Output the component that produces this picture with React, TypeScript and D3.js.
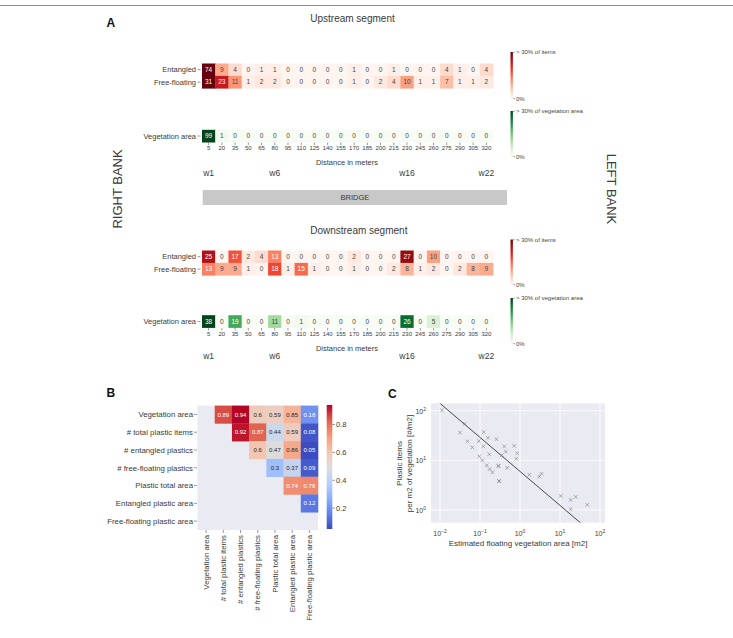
import React from 'react';
import * as d3 from 'd3';

// ---------- Panel A data ----------
const distances = [5, 20, 35, 50, 65, 80, 95, 110, 125, 140, 155, 170, 185, 200, 215, 230, 245, 260, 275, 290, 305, 320];
const upEntangled = [74, 9, 4, 0, 1, 1, 0, 0, 0, 0, 0, 1, 0, 0, 1, 0, 0, 0, 4, 1, 0, 4];
const upFreeFloating = [31, 23, 11, 1, 2, 2, 0, 0, 0, 0, 0, 1, 0, 2, 4, 10, 1, 1, 7, 1, 1, 2];
const upVegetation = [99, 1, 0, 0, 0, 0, 0, 0, 0, 0, 0, 0, 0, 0, 0, 0, 0, 0, 0, 0, 0, 0];
const downEntangled = [25, 0, 17, 2, 4, 13, 0, 0, 0, 0, 0, 2, 0, 0, 0, 27, 0, 10, 0, 0, 0, 0];
const downFreeFloating = [13, 9, 9, 1, 0, 18, 1, 15, 1, 0, 0, 1, 0, 0, 2, 8, 1, 2, 0, 2, 8, 9];
const downVegetation = [38, 0, 19, 0, 0, 11, 0, 1, 0, 0, 0, 0, 0, 0, 0, 26, 0, 5, 0, 0, 0, 0];
const waypointLabels = ['w1', 'w6', 'w16', 'w22'];
const waypointDistances = [5, 80, 230, 320];
const colorMaxPercent = 30;

// ---------- Panel B data ----------
const corrLabels = [
  'Vegetation area',
  '# total plastic items',
  '# entangled plastics',
  '# free-floating plastics',
  'Plastic total area',
  'Entangled plastic area',
  'Free-floating plastic area',
];
const corrAnnot: (number | null)[][] = [
  [null, 0.89, 0.94, 0.6, 0.59, 0.85, 0.18],
  [null, null, 0.92, 0.87, 0.44, 0.59, 0.08],
  [null, null, null, 0.6, 0.47, 0.86, 0.05],
  [null, null, null, null, 0.3, 0.37, 0.09],
  [null, null, null, null, null, 0.74, 0.76],
  [null, null, null, null, null, null, 0.12],
  [null, null, null, null, null, null, null],
];
// colour intensity (colour-bar units)
const corrColor: (number | null)[][] = [
  [null, 0.85, 0.94, 0.58, 0.56, 0.65, 0.2],
  [null, null, 0.92, 0.82, 0.44, 0.57, 0.07],
  [null, null, null, 0.6, 0.5, 0.68, 0.05],
  [null, null, null, null, 0.32, 0.42, 0.08],
  [null, null, null, null, null, 0.74, 0.75],
  [null, null, null, null, null, null, 0.14],
  [null, null, null, null, null, null, null],
];
const corrMin = 0.05;
const corrMax = 0.94;
const corrTicks = [0.2, 0.4, 0.6, 0.8];

// ---------- Panel C data ----------
const vegArea = [0.0112, 0.0414, 0.0316, 0.0487, 0.0644, 0.0933, 0.124, 0.158, 0.121, 0.257, 0.171, 0.096, 0.114, 0.147, 0.174, 0.205, 0.287, 0.292, 0.299, 0.302, 0.403, 0.442, 0.349, 0.481, 0.716, 0.856, 0.808, 1.71, 3.04, 3.45, 10.4, 18.5, 24.7, 18.5, 48.1];
const plasticDensity = [102, 54.5, 36.4, 24.2, 18.2, 24.5, 37.2, 28.5, 19.2, 26.7, 13.3, 12.1, 10.0, 7.96, 6.65, 5.77, 7.78, 7.7, 3.85, 3.8, 19.1, 15.0, 12.7, 7.1, 19.6, 13.9, 10.8, 5.15, 4.7, 5.37, 1.92, 1.6, 1.84, 1.04, 1.27];
const fitCoef = 6.0;
const fitExponent = -0.685;
const xDecades = [-2, -1, 0, 1, 2];
const yDecades = [0, 1, 2];

const FONT = '"Liberation Sans", Arial, Helvetica, sans-serif';
const TXT = '#3a3a3a';

const coolwarm = d3.piecewise(d3.interpolateRgb, [
  '#3b4cc0', '#6282ea', '#8db0fe', '#b8d0f9', '#dddddd', '#f5c4ad', '#f49a7b', '#de604d', '#b40426',
]);

function relLum(c: string) {
  const r = d3.rgb(c);
  const f = (v: number) => {
    const s = v / 255;
    return s <= 0.03928 ? s / 12.92 : Math.pow((s + 0.055) / 1.055, 2.4);
  };
  return 0.2126 * f(r.r) + 0.7152 * f(r.g) + 0.0722 * f(r.b);
}

export default function App() {
  // ----- Panel A -----
  const xA = d3.scaleBand<number>().domain(distances).range([202, 493]);
  const bw = xA.bandwidth();
  const rowH = 12.4;
  const reds = (v: number) => d3.interpolateReds(Math.min(v / colorMaxPercent, 1));
  const greens = (v: number) => d3.interpolateGreens(Math.min(v / colorMaxPercent, 1));

  const cellRow = (key: string, label: string, values: number[], top: number, color: (v: number) => string) => (
    <g key={key}>
      {values.map((v, i) => {
        const t = Math.min(v / colorMaxPercent, 1);
        const x = xA(distances[i]) as number;
        return (
          <g key={i}>
            <rect x={x} y={top} width={bw + 0.4} height={rowH + 0.3} fill={color(v)} />
            <text x={x + bw / 2} y={top + rowH / 2 + 2.3} textAnchor="middle" fontSize={6.5} fill={t >= 0.4 ? '#fff' : '#444'}>
              {v}
            </text>
          </g>
        );
      })}
      <line x1={197.5} x2={200.5} y1={top + rowH / 2} y2={top + rowH / 2} stroke="#555" strokeWidth={0.6} />
      <text x={196} y={top + rowH / 2 + 2.6} textAnchor="end" fontSize={7.5} fill={TXT}>
        {label}
      </text>
    </g>
  );

  const distAxis = (key: string, top: number, labelY: number, titleY: number, wY: number) => (
    <g key={key}>
      {distances.map((d) => {
        const cx = (xA(d) as number) + bw / 2;
        return (
          <g key={d}>
            <line x1={cx} x2={cx} y1={top} y2={top + 2.5} stroke="#555" strokeWidth={0.6} />
            <text x={cx} y={labelY} textAnchor="middle" fontSize={6} fill={TXT}>
              {d}
            </text>
          </g>
        );
      })}
      <text x={347} y={titleY} textAnchor="middle" fontSize={7.5} fill={TXT}>
        Distance in meters
      </text>
      {waypointLabels.map((w, i) => (
        <text key={w} x={(xA(waypointDistances[i]) as number) + bw / 2} y={wY} textAnchor="middle" fontSize={8.5} fill={TXT}>
          {w}
        </text>
      ))}
    </g>
  );

  const colorbarA = (key: string, top: number, bottom: number, interp: (t: number) => string, label: string) => {
    const id = 'grad-' + key;
    const stops = d3.range(0, 1.0001, 0.1);
    return (
      <g key={key}>
        <defs>
          <linearGradient id={id} x1="0" y1="1" x2="0" y2="0">
            {stops.map((s) => (
              <stop key={s} offset={s} stopColor={interp(s)} />
            ))}
          </linearGradient>
        </defs>
        <rect x={510.5} y={top} width={2.4} height={bottom - top} fill={`url(#${id})`} />
        <line x1={512.9} x2={515} y1={top + 0.3} y2={top + 0.3} stroke="#555" strokeWidth={0.5} />
        <line x1={512.9} x2={515} y1={bottom - 0.3} y2={bottom - 0.3} stroke="#555" strokeWidth={0.5} />
        <text x={516} y={top + 2.2} fontSize={6} fill="#444">
          {label}
        </text>
        <text x={516} y={bottom + 2.2} fontSize={6} fill="#444">
          0%
        </text>
      </g>
    );
  };

  // ----- Panel B -----
  const xB = d3.scaleBand<number>().domain(d3.range(7)).range([197.5, 318]);
  const yB = d3.scaleBand<number>().domain(d3.range(7)).range([405.6, 530]);
  const cB = d3.scaleLinear().domain([corrMin, corrMax]).range([0, 1]).clamp(true);
  const cbY = d3.scaleLinear().domain([corrMin, corrMax]).range([529, 405]);

  // ----- Panel C -----
  const xC = d3.scaleLog().domain([Math.pow(10, -2.225), Math.pow(10, 2.125)]).range([431, 605]);
  const yC = d3.scaleLog().domain([Math.pow(10, -0.255), Math.pow(10, 2.15)]).range([522.7, 403.3]);
  const fitLine = d3
    .line<number>()
    .x((v) => xC(v))
    .y((v) => yC(fitCoef * Math.pow(v, fitExponent)));
  const fitXs = [0.0098, 60];

  return (
    <svg
      width={733}
      height={638}
      viewBox="0 0 733 638"
      style={{ position: 'absolute', left: 0, top: 0, background: '#fff' }}
      fontFamily={FONT}
    >
      <rect x={0} y={0} width={733} height={638} fill="#fff" />
      <line x1={0} x2={733} y1={5.5} y2={5.5} stroke="#8c8c8c" strokeWidth={1.2} />

      {/* Panel A */}
      <text x={106.5} y={26.5} fontSize={12} fontWeight="bold" fill="#111">A</text>
      <text x={352.5} y={22} textAnchor="middle" fontSize={10} fill={TXT}>Upstream segment</text>
      {cellRow('ue', 'Entangled', upEntangled, 63.5, reds)}
      {cellRow('uf', 'Free-floating', upFreeFloating, 75.9, reds)}
      {cellRow('uv', 'Vegetation area', upVegetation, 129.8, greens)}
      {distAxis('ua', 142.6, 150, 164.5, 176.3)}
      {colorbarA('ur', 52, 99, d3.interpolateReds, '> 30% of items')}
      {colorbarA('ug', 111, 157, d3.interpolateGreens, '> 30% of vegetation area')}

      <rect x={202.7} y={190} width={304.3} height={15} fill="#c8c8c8" />
      <text x={355} y={200.3} textAnchor="middle" fontSize={7.5} fill={TXT}>BRIDGE</text>

      <text x={358.8} y={233.5} textAnchor="middle" fontSize={10} fill={TXT}>Downstream segment</text>
      {cellRow('de', 'Entangled', downEntangled, 250.5, reds)}
      {cellRow('df', 'Free-floating', downFreeFloating, 262.9, reds)}
      {cellRow('dv', 'Vegetation area', downVegetation, 315.2, greens)}
      {distAxis('da', 328, 336.2, 351, 359)}
      {colorbarA('dr', 239.5, 285, d3.interpolateReds, '> 30% of items')}
      {colorbarA('dg', 298, 344, d3.interpolateGreens, '> 30% of vegetation area')}

      <text transform="translate(117,189) rotate(-90)" textAnchor="middle" dy="0.35em" fontSize={13} fill={TXT}>
        RIGHT BANK
      </text>
      <text transform="translate(612,189) rotate(90)" textAnchor="middle" dy="0.35em" fontSize={13} fill={TXT}>
        LEFT BANK
      </text>

      {/* Panel B */}
      <text x={106.5} y={397} fontSize={12} fontWeight="bold" fill="#111">B</text>
      <rect x={197.5} y={405.6} width={120.5} height={124.4} fill="#eaeaf2" />
      {corrAnnot.map((row, r) =>
        row.map((v, c) => {
          const cv = corrColor[r][c];
          if (v === null || cv === null) return null;
          const fill = coolwarm(cB(cv));
          const x = xB(c) as number;
          const y = yB(r) as number;
          return (
            <g key={`${r}-${c}`}>
              <rect x={x} y={y} width={xB.bandwidth() + 0.3} height={yB.bandwidth() + 0.3} fill={fill} />
              <text
                x={x + xB.bandwidth() / 2}
                y={y + yB.bandwidth() / 2 + 2.1}
                textAnchor="middle"
                fontSize={6}
                fill={relLum(fill) > 0.408 ? '#262626' : '#fff'}
              >
                {String(v)}
              </text>
            </g>
          );
        })
      )}
      {corrLabels.map((l, i) => {
        const cy = (yB(i) as number) + yB.bandwidth() / 2;
        const cx = (xB(i) as number) + xB.bandwidth() / 2;
        return (
          <g key={l}>
            <line x1={194} x2={197} y1={cy} y2={cy} stroke="#555" strokeWidth={0.6} />
            <text x={193} y={cy + 2.7} textAnchor="end" fontSize={7.8} fill={TXT}>{l}</text>
            <line x1={cx} x2={cx} y1={530} y2={533} stroke="#555" strokeWidth={0.6} />
            <text transform={`translate(${cx + 2.7},535) rotate(-90)`} textAnchor="end" fontSize={7.8} fill={TXT}>{l}</text>
          </g>
        );
      })}
      <defs>
        <linearGradient id="cw" x1="0" y1="1" x2="0" y2="0">
          {d3.range(0, 1.0001, 0.0625).map((s) => (
            <stop key={s} offset={s} stopColor={coolwarm(s)} />
          ))}
        </linearGradient>
      </defs>
      <rect x={326.7} y={405} width={5.6} height={124} fill="url(#cw)" />
      {corrTicks.map((t) => (
        <g key={t}>
          <line x1={332.3} x2={335} y1={cbY(t)} y2={cbY(t)} stroke="#555" strokeWidth={0.6} />
          <text x={336} y={cbY(t) + 2.7} fontSize={7.5} fill={TXT}>{t.toFixed(1)}</text>
        </g>
      ))}

      {/* Panel C */}
      <text x={388} y={397.5} fontSize={12} fontWeight="bold" fill="#111">C</text>
      <defs>
        <clipPath id="clipC">
          <rect x={431} y={403.3} width={174} height={119.4} />
        </clipPath>
      </defs>
      <rect x={431} y={403.3} width={174} height={119.4} fill="#eaeaf2" />
      {xDecades.map((e) => (
        <line key={'gx' + e} x1={xC(Math.pow(10, e))} x2={xC(Math.pow(10, e))} y1={403.3} y2={522.7} stroke="#fff" strokeWidth={0.8} />
      ))}
      {yDecades.map((e) => (
        <line key={'gy' + e} x1={431} x2={605} y1={yC(Math.pow(10, e))} y2={yC(Math.pow(10, e))} stroke="#fff" strokeWidth={0.8} />
      ))}
      <g clipPath="url(#clipC)">
        <path d={fitLine(fitXs) as string} stroke="#4a4a4a" strokeWidth={1} fill="none" />
      </g>
      {vegArea.map((a, i) => {
        const px = xC(a);
        const py = yC(plasticDensity[i]);
        const s = 1.8;
        return (
          <path
            key={i}
            d={`M${px - s},${py - s}L${px + s},${py + s}M${px - s},${py + s}L${px + s},${py - s}`}
            stroke="#7a7a7a"
            strokeWidth={0.6}
            fill="none"
          />
        );
      })}
      {xDecades.map((e) => (
        <text key={'tx' + e} x={xC(Math.pow(10, e))} y={535.5} textAnchor="middle" fontSize={7} fill={TXT}>
          10<tspan fontSize={5} dy={-3}>{e < 0 ? '\u2212' + Math.abs(e) : String(e)}</tspan>
        </text>
      ))}
      {yDecades.map((e) => (
        <text key={'ty' + e} x={426} y={yC(Math.pow(10, e)) + 3} textAnchor="end" fontSize={7} fill={TXT}>
          10<tspan fontSize={5} dy={-3}>{String(e)}</tspan>
        </text>
      ))}
      <text x={518} y={546} textAnchor="middle" fontSize={8} fill={TXT}>
        Estimated floating vegetation area [m2]
      </text>
      <text transform="translate(399.5,463.5) rotate(-90)" textAnchor="middle" dy="0.35em" fontSize={8} fill={TXT}>
        Plastic items
      </text>
      <text transform="translate(409,463.5) rotate(-90)" textAnchor="middle" dy="0.35em" fontSize={8} fill={TXT}>
        per m2 of vegetation [#/m2]
      </text>
    </svg>
  );
}
